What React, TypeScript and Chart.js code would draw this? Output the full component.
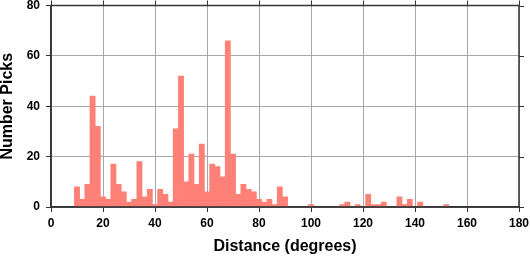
import React, { useEffect, useRef } from "react";
import { Chart, registerables } from "chart.js";

Chart.register(...registerables);

const binCenters = [
  10, 12, 14, 16, 18, 20, 22, 24, 26, 28, 30, 32, 34, 36, 38, 40, 42, 44, 46, 48,
  50, 52, 54, 56, 58, 60, 62, 64, 66, 68, 70, 72, 74, 76, 78, 80, 82, 84, 86, 88,
  90, 92, 94, 96, 98, 100, 102, 104, 106, 108, 110, 112, 114, 116, 118, 120, 122,
  124, 126, 128, 130, 132, 134, 136, 138, 140, 142, 144, 146, 148, 150, 152,
];
const pickCounts = [
  8, 3, 9, 44, 32, 4, 3, 17, 9, 6, 2, 3, 18, 4, 7, 1, 7, 5, 2, 31,
  52, 10, 21, 9, 25, 6, 17, 16, 12, 66, 21, 5, 9, 7, 6, 3, 2, 3, 1, 8,
  4, 0, 0, 0, 0, 1, 0, 0, 0, 0, 0, 1, 2, 0, 1, 0, 5,
  1, 1, 2, 0, 0, 4, 1, 3, 0, 2, 0, 0, 0, 0, 1,
];
const xTickValues = [0, 20, 40, 60, 80, 100, 120, 140, 160, 180];
const yTickValues = [0, 20, 40, 60, 80];

const FONT = "'Liberation Sans', Arial, Helvetica, sans-serif";
const FRAME = "#333333";

const framePlugin = {
  id: "frameTicks",
  afterDraw(chart: any) {
    const { ctx, chartArea, scales } = chart;
    const { left, right, top, bottom } = chartArea;
    ctx.save();
    ctx.strokeStyle = FRAME;
    ctx.lineWidth = 1.5;
    ctx.strokeRect(left, top, right - left, bottom - top);
    ctx.lineWidth = 1;
    ctx.beginPath();
    for (const v of xTickValues) {
      const px = Math.round(scales.x.getPixelForValue(v)) + 0.5;
      ctx.moveTo(px, top);
      ctx.lineTo(px, top - 5);
    }
    for (const v of yTickValues) {
      const py = Math.round(scales.y.getPixelForValue(v)) + 0.5;
      ctx.moveTo(right, py);
      ctx.lineTo(right + 5, py);
    }
    ctx.stroke();
    ctx.restore();
  },
};

export default function App() {
  const canvasRef = useRef<HTMLCanvasElement | null>(null);

  useEffect(() => {
    document.body.style.margin = "0";
    const canvas = canvasRef.current;
    if (!canvas) return;
    const chart = new Chart(canvas, {
      type: "bar",
      data: {
        datasets: [
          {
            data: binCenters.map((c, i) => ({ x: c, y: pickCounts[i] })),
            backgroundColor: "rgb(255,128,118)",
            borderWidth: 0,
            barPercentage: 1,
            categoryPercentage: 1,
          },
        ],
      },
      options: {
        animation: false,
        responsive: false,
        maintainAspectRatio: false,
        devicePixelRatio: 1,
        layout: { padding: { left: 0, top: 5.5, right: 11, bottom: 0 } },
        plugins: {
          legend: { display: false },
          tooltip: { enabled: false },
        },
        scales: {
          x: {
            type: "linear",
            min: 0,
            max: 180,
            offset: false,
            afterBuildTicks: (scale: any) => {
              scale.ticks = xTickValues.map((v) => ({ value: v }));
            },
            afterFit: (scale: any) => {
              scale.height = 51;
              scale.paddingLeft = 0;
              scale.paddingRight = 0;
            },
            ticks: {
              color: "#000",
              font: { family: FONT, size: 12, weight: "bold" },
              padding: 4,
              maxRotation: 0,
            },
            grid: {
              offset: false,
              color: "#a8a8a8",
              lineWidth: 1,
              tickColor: FRAME,
              tickLength: 5,
            },
            border: { display: true, color: FRAME, width: 1.5 },
            title: {
              display: true,
              text: "Distance (degrees)",
              color: "#000",
              font: { family: FONT, size: 16, weight: "bold" },
              padding: { top: 0, bottom: 2 },
            },
          },
          y: {
            type: "linear",
            min: 0,
            max: 80,
            afterBuildTicks: (scale: any) => {
              scale.ticks = yTickValues.map((v) => ({ value: v }));
            },
            afterFit: (scale: any) => {
              scale.width = 51;
              scale.paddingTop = 0;
              scale.paddingBottom = 0;
            },
            ticks: {
              color: "#000",
              font: { family: FONT, size: 12, weight: "bold" },
              padding: 6,
            },
            grid: {
              color: "#a8a8a8",
              lineWidth: 1,
              tickColor: FRAME,
              tickLength: 5,
            },
            border: { display: true, color: FRAME, width: 1.5 },
            title: {
              display: true,
              text: "Number Picks",
              color: "#000",
              font: { family: FONT, size: 16, weight: "bold", lineHeight: 1 },
              padding: { top: 0, bottom: 0 },
            },
          },
        },
      },
      plugins: [framePlugin],
    });
    return () => chart.destroy();
  }, []);

  return (
    <div style={{ width: 530, height: 258 }}>
      <canvas ref={canvasRef} width={530} height={258} style={{ display: "block" }} />
    </div>
  );
}
